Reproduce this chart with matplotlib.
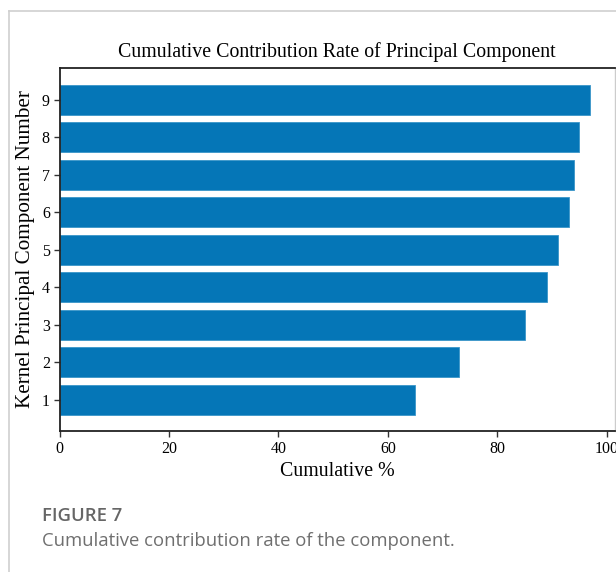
import matplotlib.pyplot as plt
from matplotlib.lines import Line2D

# cumulative contribution of the kernel principal components
components = [1, 2, 3, 4, 5, 6, 7, 8, 9]
cumulative_pct = [65, 73, 85, 89, 91, 93, 94, 95, 97]
x_ticks = [0, 20, 40, 60, 80, 100]

BAR_BLUE = "#0576b7"
SERIF = ["Liberation Serif", "DejaVu Serif"]
SANS = ["Open Sans", "DejaVu Sans"]

fig = plt.figure(figsize=(6.16, 5.72), dpi=100)
ax = fig.add_axes([0.0966, 0.2465, 0.9010, 0.6346])

ax.barh(components, cumulative_pct, height=0.8, color=BAR_BLUE,
        edgecolor="#3a95c9", linewidth=0.6)
ax.set_xlim(0, 101.4)
ax.set_ylim(0.16, 9.84)
ax.set_xticks(x_ticks)
ax.set_yticks(components)

for lab in ax.get_xticklabels() + ax.get_yticklabels():
    lab.set_fontfamily(SERIF)
    lab.set_fontsize(11.5)
ax.tick_params(direction="out", length=4, width=1.0, color="#333333", pad=3)

for side in ("left", "bottom", "top"):
    ax.spines[side].set_linewidth(1.3)
    ax.spines[side].set_color("#222222")
ax.spines["right"].set_color("#cccccc")
ax.spines["right"].set_linewidth(1.0)

ax.set_title("Cumulative Contribution Rate of Principal Component",
             family=SERIF, fontsize=14.3, pad=8)
ax.set_xlabel("Cumulative %", family=SERIF, fontsize=14.3, labelpad=4)
ax.set_ylabel("Kernel Principal Component Number", family=SERIF,
              fontsize=15.2, labelpad=5)

# page frame around the figure block
fig.add_artist(Line2D([9 / 616, 9 / 616], [0, 1 - 11 / 572],
                      transform=fig.transFigure, color="#cfcfcf", lw=1.2))
fig.add_artist(Line2D([9 / 616, 1], [1 - 11 / 572, 1 - 11 / 572],
                      transform=fig.transFigure, color="#cfcfcf", lw=1.2))

fig.text(42 / 616, 1 - 516 / 572, "FIGURE 7", family=SANS, fontsize=13.3,
         fontweight="semibold", color="#666666", va="center", ha="left")
fig.text(42 / 616, 1 - 541 / 572,
         "Cumulative contribution rate of the component.",
         family=SANS, fontsize=13.3, color="#6f6f6f", va="center", ha="left")

fig.savefig("out.png", dpi=100)
